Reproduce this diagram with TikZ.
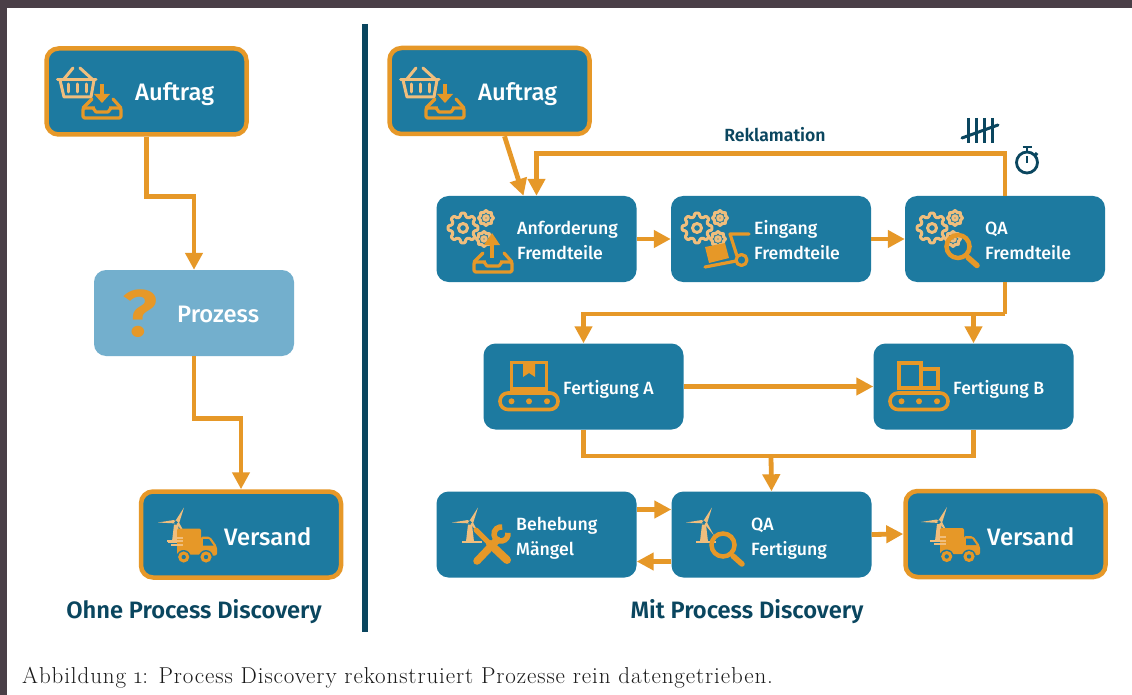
\documentclass[tikz,border=0pt]{standalone}
\usepackage{fontspec}
\setmainfont{Latin Modern Roman}
\setsansfont{Fira Sans}[BoldFont={Fira Sans Medium}]
\newfontfamily\firasemi{Fira Sans SemiBold}
\usetikzlibrary{arrows.meta}
\definecolor{pd_blue}{RGB}{29, 122, 160}
\definecolor{pd_pale}{RGB}{115, 175, 205}
\definecolor{pd_orange}{RGB}{230, 152, 40}
\definecolor{pd_light}{RGB}{240, 190, 125}
\definecolor{pd_navy}{RGB}{10, 70, 95}
\definecolor{pd_frame}{RGB}{74, 63, 71}
\tikzstyle{proc}=[rectangle,rounded corners=12pt,fill=pd_blue,inner sep=0pt,
  minimum width=200pt,minimum height=86pt]
\tikzstyle{procend}=[proc,draw=pd_orange,line width=4.5pt]
\tikzstyle{procopen}=[proc,fill=pd_pale]
\tikzstyle{lbl}=[anchor=base west,inner sep=0pt,text=white,align=left,
  font=\sffamily\bfseries\fontsize{17.7}{25.5}\selectfont]
\tikzstyle{lblbig}=[lbl,font=\sffamily\bfseries\fontsize{23.8}{28}\selectfont]
\tikzstyle{title}=[anchor=base,inner sep=0pt,text=pd_navy,
  font=\firasemi\fontsize{23.7}{26}\selectfont]
\tikzstyle{link}=[draw=pd_orange,line width=4.8pt]
\tikzstyle{flow}=[link,-{Triangle[length=17pt,width=17pt]}]
\tikzstyle{ico_l}=[draw=pd_light,line width=3pt,line cap=round,line join=round]
\tikzstyle{ico_o}=[draw=pd_orange,line width=3.2pt,line cap=round,line join=round]
\newcommand{\gearshape}[4]{% x, y, scale, line width
  \begin{scope}[shift={(#1,#2)},scale=#3]
    \draw[ico_l,line width=#4pt,rounded corners=1pt] (-14:11.5)
      \foreach \a in {0,45,...,315} {-- (\a-14:11.5) -- (\a-9:15) -- (\a+9:15) -- (\a+14:11.5)} -- cycle;
    \draw[ico_l,line width=#4pt] (0,0) circle (4.5);
  \end{scope}}
\tikzset{
  gears/.pic={
    \gearshape{0}{0}{1}{3}
    \gearshape{23}{-10}{0.5}{3}
    \gearshape{21}{11}{0.5}{3}
  },
  basket/.pic={
    \draw[ico_l] (0.5,12.5) -- (39,12.5);
    \draw[ico_l] (3,13) -- (7,30) -- (34,30) -- (37,13);
    \draw[ico_l] (7,12) -- (16,1) (23,1) -- (35,12);
    \foreach \x in {11,20,29} \draw[ico_l] (\x,17) -- (\x,25);
  },
  tray/.pic={
    \draw[ico_o,rounded corners=1.5pt] (0,9) -- (38,9) -- (38,19) -- (0,19) -- cycle;
    \draw[ico_o] (0,9) -- (9,0) (30,0) -- (38,9);
    \draw[draw=pd_blue,line width=3.4pt] (12,9) -- (26,9);
    \draw[ico_o] (10,9) -- (13,13) -- (25,13) -- (28,9);
  },
  magnifier/.pic={
    \draw[draw=pd_orange,line width=4.5pt] (0,0) circle (11.5);
    \draw[draw=pd_orange,line width=5.5pt,line cap=round] (10,11) -- (19,19);
  },
  belt/.pic={
    \draw[ico_o,line width=3.6pt,rounded corners=8pt] (0,0) rectangle (58,16.5);
    \foreach \x in {11.5,29,47} \fill[pd_orange] (\x,8.3) circle (3);
  },
  turbine/.pic={
    \fill[pd_light] (-2,2) -- (2,2) -- (4,19) -- (-4,19) -- cycle;
    \fill[pd_light] (-8,18) rectangle (12,20);
    \fill[pd_light] (-18,0) -- (-2,-2.5) -- (1,1) -- cycle;
    \fill[pd_light] (8,-15) -- (-1,-1) -- (3,1) -- cycle;
    \fill[pd_light] (0,1) -- (3,0) -- (10,13) -- cycle;
    \fill[pd_blue] (0,0) circle (1.8);
  },
  truck/.pic={
    \fill[pd_orange,rounded corners=2pt] (0,0) rectangle (24,26);
    \fill[pd_orange,rounded corners=2pt] (24,8) -- (33,8) -- (40,18) -- (40,27) -- (24,27) -- cycle;
    \fill[pd_blue] (26,10.5) -- (32,10.5) -- (36.5,17) -- (26,17) -- cycle;
    \fill[pd_light] (-4,8) rectangle (6,10);
    \fill[pd_light] (-10,11.5) rectangle (6,13.5);
    \fill[pd_light] (-6,15) rectangle (6,17);
    \foreach \x in {6.7,29} {
      \fill[pd_blue] (\x,28.5) circle (7);
      \fill[pd_orange] (\x,28.5) circle (5.6);
      \fill[pd_blue] (\x,28.5) circle (2.2);
    }
  }
}
\begin{document}
\begin{tikzpicture}[x=1pt,y=-1pt]
  \useasboundingbox (0,0) rectangle (1132,695);
  \fill[pd_frame] (0,0) rectangle (1132,695);
  \fill[white] (7,8) rectangle (1132,695);
  \draw[pd_navy,line width=5.5pt] (365,24) -- (365,632);
  % left column
  \node [style=procend] (auftrag1) at (146.5,91.5) {};
  \node [style=procopen] (prozess) at (194,313) {};
  \node [style=procend] (versand1) at (241,534.5) {};
  \draw[flow] (auftrag1.south) -- ++(0,60) -| (prozess.north);
  \draw[flow] (prozess.south) -- ++(0,62) -| (versand1.north);
  % right column
  \node [style=procend] (auftrag2) at (489.5,91) {};
  \node [style=proc] (anford) at (536.5,239) {};
  \node [style=proc] (eingang) at (771,239) {};
  \node [style=proc] (qafremd) at (1005,239) {};
  \node [style=proc] (fertA) at (583.5,386.5) {};
  \node [style=proc] (fertB) at (973.5,386.5) {};
  \node [style=proc] (behebung) at (536.5,534.5) {};
  \node [style=proc] (qafert) at (771.5,534.5) {};
  \node [style=procend] (versand2) at (1005.5,534) {};
  \coordinate (fork) at (1005,314);
  \coordinate (merge) at (771,456);
  \draw[flow] ([xshift=15]auftrag2.south) -- ([xshift=-13]anford.north);
  \draw[flow] (qafremd.north) -- ++(0,-42) -| (anford.north);
  \draw[flow] (anford.east) -- (eingang.west);
  \draw[flow] (eingang.east) -- (qafremd.west);
  \draw[link] (qafremd.south) -- (fork);
  \draw[flow] (fork) -| (fertA.north);
  \draw[flow] (fork) -| (fertB.north);
  \draw[flow] (fertA.east) -- (fertB.west);
  \draw[link] (fertA.south) |- (merge) -| (fertB.south);
  \draw[flow] (merge) -- (qafert.north);
  \draw[flow] ([yshift=25]behebung.east) -- ([yshift=25]qafert.west);
  \draw[flow] ([yshift=-27]qafert.west) -- ([yshift=-27]behebung.east);
  \draw[flow] (qafert.east) -- (versand2.west);
  % labels
  \node [style=lblbig] (t_auftrag1) at (135,101) {Auftrag};
  \node [style=lblbig] (t_prozess) at (177,322) {Prozess};
  \node [style=lblbig] (t_versand1) at (224,545) {Versand};
  \node [style=lblbig] (t_auftrag2) at (478,101) {Auftrag};
  \node [style=lblbig] (t_versand2) at (987,545) {Versand};
  \node [style=lbl] (t_anford) at (517,259.5) {Anforderung\\Fremdteile};
  \node [style=lbl] (t_eingang) at (754,259.5) {Eingang\\Fremdteile};
  \node [style=lbl] (t_qafremd) at (985,259.5) {QA\\Fremdteile};
  \node [style=lbl] (t_fertA) at (563,394.5) {Fertigung A};
  \node [style=lbl] (t_fertB) at (953,394.5) {Fertigung B};
  \node [style=lbl] (t_behebung) at (516,555.5) {Behebung\\Mängel};
  \node [style=lbl] (t_qafert) at (751,555.5) {QA\\Fertigung};
  \node [style=lbl,anchor=base,text=pd_navy,font=\firasemi\fontsize{17.6}{20}\selectfont] (t_rekl) at (775,142) {Reklamation};
  \node [style=title] (t_ohne) at (194,618) {Ohne Process Discovery};
  \node [style=title] (t_mit) at (747,618) {Mit Process Discovery};
  \node [anchor=base west,inner sep=0pt,font=\fontsize{23}{26}\selectfont\addfontfeature{LetterSpace=3.9},text=black!90] (t_caption) at (22,683)
    {Abbildung {\addfontfeature{Numbers=OldStyle}1}: Process Discovery rekonstruiert Prozesse rein datengetrieben.};
  \node [anchor=center,inner sep=0pt,text=pd_orange,xscale=1.12,transform shape,font=\firasemi\fontsize{66}{66}\selectfont] (t_frage) at (140.5,314) {?};
  % icons
  \pic at (57,67) {basket};
  \pic at (400,67) {basket};
  \pic at (83,99) {tray};
  \pic at (426,99) {tray};
  \foreach \x in {102,445} {
    \draw[draw=pd_orange,line width=3.2pt] (\x,84) -- (\x,95);
    \fill[pd_orange] (\x-8,94) -- (\x+8,94) -- (\x,103) -- cycle;
  }
  \pic at (463,228) {gears};
  \pic at (474,253) {tray};
  \draw[draw=pd_orange,line width=3.2pt] (492,243) -- (492,258);
  \fill[pd_orange] (484,245) -- (500,245) -- (492,233) -- cycle;
  \pic at (697,228) {gears};
  \fill[pd_orange] (705,247) -- (725,243) -- (729,258) -- (709,263) -- cycle;
  \draw[ico_o] (749,234) -- (730,234) -- (737,256);
  \draw[ico_o] (741.5,260) circle (5.5);
  \draw[ico_o] (705,267) -- (736,261);
  \pic at (932,228) {gears};
  \pic at (958,246.5) {magnifier};
  \draw[draw=pd_orange,line width=3.6pt] (511.5,362.5) rectangle (546.5,389);
  \fill[pd_orange] (523,363) -- (535,363) -- (535,377) -- (529,373) -- (523,377) -- cycle;
  \pic at (500,393) {belt};
  \draw[draw=pd_orange,line width=3.6pt] (899,363) rectangle (921,388);
  \draw[draw=pd_orange,line width=3.6pt] (921,369) rectangle (938,388);
  \pic at (890,393) {belt};
  \pic at (470,522.5) {turbine};
  \draw[draw=pd_orange,line width=5pt,line cap=round] (476,530) -- (490,544);
  \draw[draw=pd_orange,line width=8pt,line cap=round] (490,544) -- (507,560);
  \draw[draw=pd_orange,line width=7.5pt,line cap=round] (477,561) -- (497,540);
  \draw[draw=pd_orange,line width=5.5pt] (501,534) ++(-10:7) arc[start angle=-10,end angle=280,radius=7];
  \pic at (704,522.5) {turbine};
  \pic at (723,545) {magnifier};
  \pic at (939,522) {turbine};
  \pic at (940,528) {truck};
  \pic at (176,522.5) {turbine};
  \pic at (177,528.5) {truck};
  % tally and timer
  \foreach \x in {968,976,984,992} \draw[pd_navy,line width=3pt] (\x,118) -- (\x,143);
  \draw[pd_navy,line width=3pt,line cap=round] (962,138) -- (998,125);
  \draw[pd_navy,line width=2.8pt] (1027,162.5) circle (10.5);
  \draw[pd_navy,line width=2.8pt] (1027,147) -- (1027,152) (1022.5,147) -- (1031.5,147);
  \draw[pd_navy,line width=2.6pt] (1027,156.5) -- (1027,163.5);
  \draw[pd_navy,line width=2.6pt] (1035,153) -- (1037.5,155);
\end{tikzpicture}
\end{document}
